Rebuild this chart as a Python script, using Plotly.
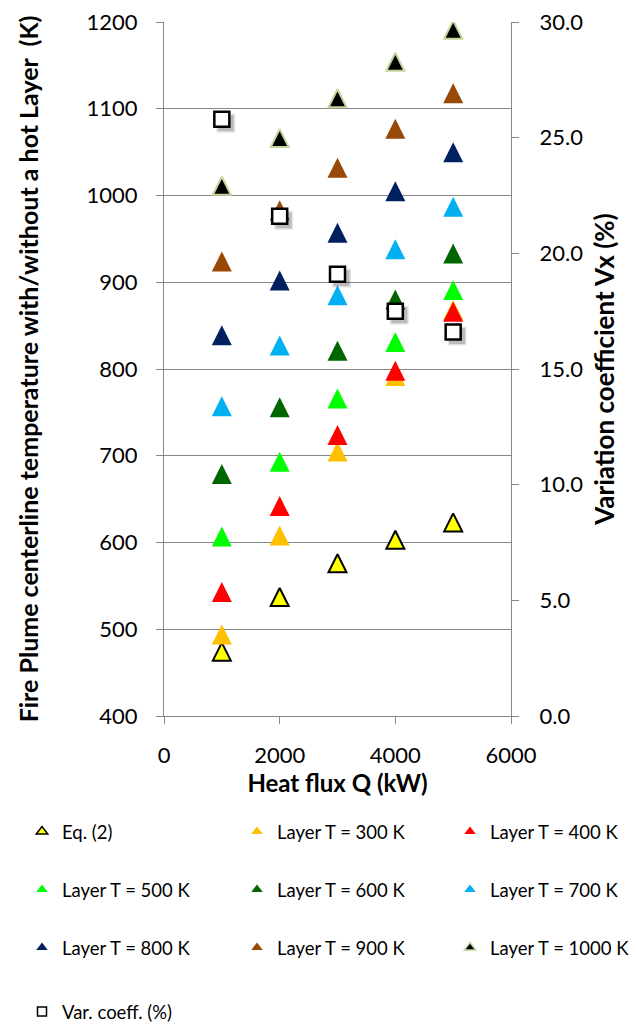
import plotly.graph_objects as go

# ---------------- data ----------------
Q_kW = [1000, 2000, 3000, 4000, 5000]
eq2 = [473, 536, 575, 602, 622]
layer_300 = [494, 608, 705, 792, 868]
layer_400 = [543, 642, 724, 798, 866]
layer_500 = [607, 693, 766, 831, 891]
layer_600 = [679, 756, 821, 880, 933]
layer_700 = [757, 827, 885, 938, 987]
layer_800 = [839, 902, 957, 1005, 1050]
layer_900 = [924, 983, 1032, 1077, 1118]
layer_1000 = [1010, 1065, 1111, 1153, 1190]
var_coeff = [25.8, 21.6, 19.1, 17.5, 16.6]

series_names = ["Eq. (2)", "Layer T = 300 K", "Layer T = 400 K", "Layer T = 500 K",
                "Layer T = 600 K", "Layer T = 700 K", "Layer T = 800 K",
                "Layer T = 900 K", "Layer T = 1000 K"]
series_values = [eq2, layer_300, layer_400, layer_500, layer_600, layer_700,
                 layer_800, layer_900, layer_1000]
var_name = "Var. coeff. (%)"

x_ticks = [0, 2000, 4000, 6000]
Q_range = [0, 6000]
T_range = [400, 1200]
V_range = [0, 30]

# ---------------- styles ----------------
fills = ["#FFFF00", "#FFC000", "#FF0000", "#00FF00", "#006600", "#00B0F0",
         "#002060", "#984807", "#000000"]
outlines = ["#000000", None, None, None, None, None, None, None, "#C3D69B"]

W, H = 637, 1025
M = dict(l=164, r=126, t=22, b=309, autoexpand=False)
plot_h = H - M["t"] - M["b"]
plot_w = W - M["l"] - M["r"]
px_per_K = plot_h / (T_range[1] - T_range[0])
px_per_Q = plot_w / (Q_range[1] - Q_range[0])
px_per_V = plot_h / (V_range[1] - V_range[0])

ARROW = 20  # isosceles triangle marker (width == height)
shift_T = (ARROW / 2) / px_per_K  # centre triangle body on its value
SHADOW = 4  # px offset of the square's drop shadow
shift_Q = SHADOW / px_per_Q
shift_V = SHADOW / px_per_V

GRID = "#878787"
FONT = "Lato"

fig = go.Figure()

# triangles (on shifted overlay axis so the triangle body is centred on the value)
for name, vals, fc, oc in zip(series_names, series_values, fills, outlines):
    if oc:
        mk = dict(symbol="arrow-up", size=ARROW - 2, color=fc, line=dict(color=oc, width=2))
    else:
        mk = dict(symbol="arrow-up", size=ARROW, color=fc, line=dict(width=0))
    fig.add_trace(go.Scatter(x=Q_kW, y=vals, mode="markers", marker=mk, name=name,
                             xaxis="x", yaxis="y2", showlegend=False))

# soft drop shadow of the squares (offset overlay axes)
for sz, col in [(19, "rgba(0,0,0,0.10)"), (16, "rgba(0,0,0,0.18)")]:
    fig.add_trace(go.Scatter(x=Q_kW, y=var_coeff, mode="markers", xaxis="x2", yaxis="y4",
                             marker=dict(symbol="square", size=sz, color=col,
                                         line=dict(width=0)),
                             showlegend=False, hoverinfo="skip"))

# variation coefficient squares (right axis, drawn on top)
fig.add_trace(go.Scatter(x=Q_kW, y=var_coeff, mode="markers", name=var_name,
                         xaxis="x3", yaxis="y3",
                         marker=dict(symbol="square", size=15, color="white",
                                     line=dict(color="black", width=2.5)),
                         showlegend=False))

# legend-only entries (one legend per item for exact Excel-like layout)
col_x = [62, 277, 490]
row_y = [832, 890, 948, 1012]
legend_layouts = {}
entries = list(zip(series_names, fills, outlines)) + [(var_name, "white", "#000000")]
for i, (name, fc, oc) in enumerate(entries):
    row, col = divmod(i, 3)
    key = "legend" if i == 0 else f"legend{i + 1}"
    sym = "square" if name == var_name else "triangle-up"
    size = 9 if sym == "square" else 10
    mk = dict(symbol=sym, size=size, color=fc,
              line=dict(color=oc if oc else fc, width=1.5 if oc else 0))
    fig.add_trace(go.Scatter(x=[None], y=[None], mode="markers", name=name, marker=mk,
                             legend=key, showlegend=True))
    legend_layouts[key] = dict(
        x=(col_x[col] - 40 - M["l"]) / plot_w, xanchor="left",
        y=(H - M["b"] - row_y[row]) / plot_h, yanchor="middle",
        orientation="v", bgcolor="rgba(0,0,0,0)",
        font=dict(family=FONT, size=18.5, color="#000000"),
    )

axis_common = dict(showline=True, linecolor=GRID, linewidth=1.3, ticks="outside",
                   ticklen=7, tickcolor=GRID, tickwidth=1.3,
                   tickfont=dict(family=FONT, size=22, color="#000000"))

fig.update_layout(
    width=W, height=H, margin=M,
    paper_bgcolor="white", plot_bgcolor="white",
    font=dict(family=FONT, color="#000000"),
    xaxis=dict(range=Q_range, tickvals=x_ticks, showgrid=False, zeroline=False,
               ticklabelstandoff=12,
               title=dict(text="Heat flux Q (kW)", standoff=5,
                          font=dict(family=FONT, size=24, weight="bold")),
               **axis_common),
    xaxis2=dict(range=[Q_range[0] - shift_Q, Q_range[1] - shift_Q], overlaying="x",
                visible=False),
    xaxis3=dict(range=Q_range, overlaying="x", visible=False),
    yaxis=dict(range=T_range, dtick=100, showgrid=True, gridcolor=GRID, gridwidth=1.3,
               zeroline=False, ticklabelstandoff=14,
               title=dict(text="Fire Plume centerline temperature with/without a hot Layer  (K)",
                          standoff=40, font=dict(family=FONT, size=25, weight="bold")),
               **axis_common),
    yaxis2=dict(range=[T_range[0] - shift_T, T_range[1] - shift_T], overlaying="y",
                visible=False),
    yaxis3=dict(range=V_range, dtick=5, tickformat=".1f", overlaying="y", side="right",
                anchor="x", showgrid=False, zeroline=False, ticklabelstandoff=16,
                title=dict(text="Variation coefficient Vx (%)", standoff=13,
                           font=dict(family=FONT, size=26, weight="bold")),
                **axis_common),
    yaxis4=dict(range=[V_range[0] + shift_V, V_range[1] + shift_V], overlaying="y",
                visible=False),
    **legend_layouts,
)

fig.write_html("out.html", config={"displayModeBar": False},
               post_script="document.body.style.margin='0';")
